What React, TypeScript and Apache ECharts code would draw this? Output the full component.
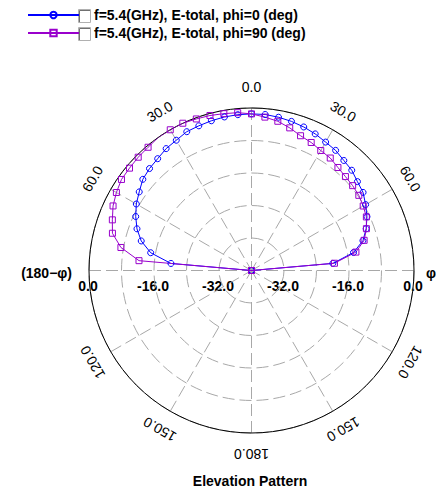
import React, { useEffect, useRef } from "react";
import * as echarts from "echarts";

// Elevation angle theta (deg), positive on the phi side (right)
const ANGLES = [
  -90, -85, -80, -75, -70, -65, -60, -55, -50, -45, -40, -35, -30, -25, -20, -15, -10, -5,
  0, 5, 10, 15, 20, 25, 30, 35, 40, 45, 50, 55, 60, 65, 70, 75, 80, 85, 90,
];
// Normalised gain (dB), phi = 0 deg
const PHI0_DB = [
  -40, -20.1, -14.8, -11.9, -10.0, -8.55, -7.26, -6.26, -5.08, -4.5, -4.07, -3.37, -2.97, -2.3,
  -2.1, -1.84, -1.62, -1.5, -1.45, -1.45, -1.69, -2.0, -2.4, -2.9, -3.5, -3.9, -4.64, -5.1, -5.96,
  -6.48, -7.56, -8.64, -9.96, -11.6, -14.5, -19.9, -40,
];
// Normalised gain (dB), phi = 90 deg
const PHI90_DB = [
  -40, -12.2, -7.36, -4.56, -3.55, -2.4, -1.6, -0.93, -0.8, -0.56, -0.4, 0, 0, 0, -0.3, -0.5,
  -0.8, -1.0, -1.45, -2.1, -2.7, -3.65, -4.7, -5.23, -5.9, -6.2, -6.9, -7.3, -7.5, -7.75, -8.25,
  -8.8, -9.9, -11.3, -13.9, -19.5, -40,
];
const SERIES_NAMES = [
  "f=5.4(GHz), E-total, phi=0 (deg)",
  "f=5.4(GHz), E-total, phi=90 (deg)",
];
const ANGLE_TICKS = [0, 30, 60, 120, 150, 180, -30, -60, -120, -150];
const RADIAL_TICKS = [0, -16, -32];
const R_MIN = -40;
const R_MAX = 0;
const R_STEP = 8;

const CX = 251.5;
const CY = 270.5;
const RADIUS = 162.5;
const FONT = 'Arial, "Liberation Sans", sans-serif';
const BLUE = "#0000ff";
const PURPLE = "#9900cc";

export default function App() {
  const ref = useRef<HTMLDivElement>(null);
  useEffect(() => {
    if (!ref.current) return;
    const chart = echarts.init(ref.current, undefined, { renderer: "svg" });

    const graphics: any[] = [];
    // angle labels
    ANGLE_TICKS.forEach((a) => {
      const rad = (a * Math.PI) / 180;
      const rl = RADIUS + 21;
      graphics.push({
        type: "text",
        x: CX + rl * Math.sin(rad),
        y: CY - rl * Math.cos(rad),
        rotation: -rad,
        style: {
          text: Math.abs(a).toFixed(1),
          font: `14px ${FONT}`,
          fill: "#000",
          align: "center",
          verticalAlign: "middle",
        },
      });
    });
    // radial labels on both sides
    RADIAL_TICKS.forEach((v) => {
      const r = ((v - R_MIN) / (R_MAX - R_MIN)) * RADIUS;
      [-1, 1].forEach((s) => {
        graphics.push({
          type: "text",
          x: CX + s * r - 1,
          y: CY + 15,
          style: {
            text: v.toFixed(1),
            font: `bold 14px ${FONT}`,
            fill: "#000",
            align: "center",
            verticalAlign: "middle",
          },
        });
      });
    });
    graphics.push({
      type: "text",
      x: 72,
      y: CY + 2,
      style: { text: "(180\u2212\u03c6)", font: `bold 14px ${FONT}`, fill: "#000", align: "right", verticalAlign: "middle" },
    });
    graphics.push({
      type: "text",
      x: 426,
      y: CY + 2,
      style: { text: "\u03c6", font: `bold 14px ${FONT}`, fill: "#000", align: "left", verticalAlign: "middle" },
    });
    graphics.push({
      type: "text",
      x: 250,
      y: 481,
      style: { text: "Elevation Pattern", font: `bold 14px ${FONT}`, fill: "#000", align: "center", verticalAlign: "middle" },
    });
    // legend checkboxes
    [9, 27].forEach((y) => {
      graphics.push({
        type: "rect",
        shape: { x: 78.5, y: y + 0.5, width: 12, height: 13 },
        style: { fill: "#fff", stroke: "#b0b0b0", lineWidth: 1 },
      });
      graphics.push({
        type: "polyline",
        shape: { points: [[79.5, y + 13], [79.5, y + 1.5], [90, y + 1.5]] },
        style: { stroke: "#707070", lineWidth: 1, fill: null },
      });
    });

    const mk = (name: string, vals: number[], color: string, symbol: string) => ({
      type: "line",
      name,
      coordinateSystem: "polar",
      data: ANGLES.map((a, i) => [vals[i], a]),
      symbol,
      symbolSize: 6,
      showSymbol: true,
      lineStyle: { color, width: 1 },
      itemStyle: { color: "rgba(255,255,255,0)", borderColor: color, borderWidth: 1 },
      emphasis: { disabled: true },
    });

    chart.setOption({
      animation: false,
      backgroundColor: "#fff",
      polar: { center: [CX, CY], radius: RADIUS },
      angleAxis: {
        type: "value",
        min: -180,
        max: 180,
        interval: 30,
        startAngle: 270,
        clockwise: true,
        axisLine: { show: true, lineStyle: { color: "#000", width: 1 } },
        axisTick: { show: false },
        axisLabel: { show: false },
        splitLine: { show: true, lineStyle: { color: "#a8a8a8", width: 1, type: [12, 5] } },
      },
      radiusAxis: {
        type: "value",
        min: R_MIN,
        max: R_MAX,
        interval: R_STEP,
        axisLine: { show: false },
        axisTick: { show: false },
        axisLabel: { show: false },
        splitLine: { show: true, lineStyle: { color: "#a8a8a8", width: 1, type: [12, 5] } },
      },
      legend: {
        orient: "vertical",
        left: 27,
        top: 8,
        padding: 0,
        itemWidth: 51,
        itemHeight: 8,
        itemGap: 4,
        selectedMode: false,
        data: SERIES_NAMES,
        textStyle: {
          fontFamily: FONT,
          fontSize: 14,
          fontWeight: "bold",
          color: "#000",
          lineHeight: 14,
          padding: [0, 0, 0, 10],
        },
      },
      series: [mk(SERIES_NAMES[0], PHI0_DB, BLUE, "circle"), mk(SERIES_NAMES[1], PHI90_DB, PURPLE, "rect")],
      graphic: graphics,
    });
    return () => chart.dispose();
  }, []);
  return (
    <div
      ref={ref}
      style={{ position: "fixed", left: 0, top: 0, width: 436, height: 490, background: "#fff" }}
    />
  );
}
